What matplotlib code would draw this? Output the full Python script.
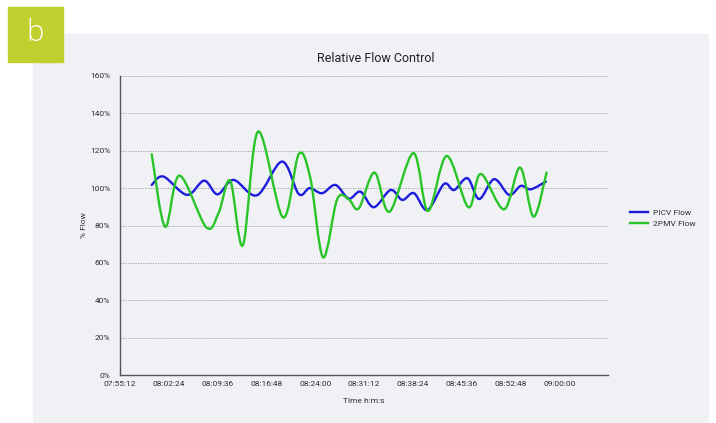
import numpy as np
import matplotlib.pyplot as plt
from matplotlib.path import Path
from matplotlib.patches import PathPatch, Rectangle
from matplotlib.lines import Line2D

plt.rcParams['font.family'] = ['Roboto', 'DejaVu Sans']

#----------- Data -----------------------------------
picv_times = ["07:59:53", "08:01:36", "08:05:04", "08:07:37", "08:09:35", "08:11:57",
              "08:15:25", "08:19:06", "08:21:34", "08:23:11", "08:25:01", "08:26:59",
              "08:28:57", "08:30:41", "08:32:39", "08:35:07", "08:36:51", "08:38:34",
              "08:40:33", "08:43:00", "08:44:29", "08:46:28", "08:48:11", "08:50:24",
              "08:52:37", "08:54:20", "08:55:49", "08:58:02"]
picv_flow = [101.7, 106.2, 96.4, 104.0, 96.7, 104.4,
             96.2, 114.2, 96.9, 100.0, 97.3, 101.7,
             94.4, 98.1, 89.8, 99.0, 93.7, 97.3,
             88.3, 102.2, 99.0, 105.3, 94.2, 104.8,
             96.4, 101.2, 99.4, 103.5]

pmv_times = ["07:59:53", "08:01:51", "08:03:58", "08:07:55", "08:09:44", "08:11:28",
             "08:13:20", "08:15:34", "08:19:15", "08:21:34", "08:23:17", "08:25:10",
             "08:27:14", "08:28:57", "08:30:26", "08:32:45", "08:34:58", "08:38:29",
             "08:40:38", "08:43:24", "08:46:36", "08:48:26", "08:51:52", "08:54:14",
             "08:56:13", "08:58:08"]
pmv_flow = [118.1, 79.4, 106.7, 79.1, 86.6, 103.9,
            69.6, 130.2, 84.4, 118.1, 105.3, 63.0,
            94.0, 94.0, 89.2, 108.3, 87.4, 118.7,
            87.8, 117.2, 89.8, 107.6, 88.7, 111.0,
            84.8, 108.3]

tick_times = ["07:55:12", "08:02:24", "08:09:36", "08:16:48", "08:24:00",
              "08:31:12", "08:38:24", "08:45:36", "08:52:48", "09:00:00"]
y_ticks = [0, 20, 40, 60, 80, 100, 120, 140, 160]


def to_days(t):
    h, m, s = [int(v) for v in t.split(":")]
    return h / 24 + m / 1440 + s / 86400


# spreadsheet style smoothed line (catmull-rom -> bezier)
def smooth_path(x, y):
    pts = np.column_stack([x, y])
    n = len(pts)
    verts = [pts[0]]
    codes = [Path.MOVETO]
    for i in range(n - 1):
        p0 = pts[max(i - 1, 0)]
        p1 = pts[i]
        p2 = pts[i + 1]
        p3 = pts[min(i + 2, n - 1)]
        verts += [p1 + (p2 - p0) / 6, p2 - (p3 - p1) / 6, p2]
        codes += [Path.CURVE4] * 3
    return Path(verts, codes)


BLUE = '#1c1cdc'
GREEN = '#28c428'
PANEL = '#f0f1f5'
TXT = '#2e2e2e'

fig = plt.figure(figsize=(7.16, 4.23), dpi=100)
fig.patch.set_facecolor('white')
W, H = 716, 423

# grey panel and the "b" tag
fig.patches.append(Rectangle((33 / W, 0), (708 - 33) / W, 1 - 34 / H,
                             transform=fig.transFigure, color=PANEL, zorder=-2))
fig.patches.append(Rectangle((8 / W, 1 - 62 / H), 55 / W, 55 / H,
                             transform=fig.transFigure, color='#c0d12f', zorder=-1))
fig.text(35.5 / W, 1 - 33 / H, "b", color='white', fontsize=21, fontweight='light',
         ha='center', va='center', family=['Open Sans', 'DejaVu Sans'])

ax = fig.add_axes([120 / W, 1 - 375.2 / H, (608 - 120) / W, (375.2 - 75.9) / H])
ax.set_facecolor('none')

ax.add_patch(PathPatch(smooth_path([to_days(t) for t in picv_times], picv_flow),
                       fill=False, edgecolor=BLUE, lw=1.7, zorder=3, capstyle='round'))
ax.add_patch(PathPatch(smooth_path([to_days(t) for t in pmv_times], pmv_flow),
                       fill=False, edgecolor=GREEN, lw=1.7, zorder=3, capstyle='round'))

ax.set_xlim(to_days("07:55:12"), to_days("09:07:12"))
ax.set_ylim(0, 160)
ax.set_xticks([to_days(t) for t in tick_times])
ax.set_xticklabels(tick_times)
ax.set_yticks(y_ticks)
ax.set_yticklabels([f"{v}%" for v in y_ticks])
ax.tick_params(length=0, labelsize=6, colors=TXT)
ax.tick_params(axis='y', pad=7)
ax.tick_params(axis='x', pad=4)

ax.grid(axis='y', color='#9a9a9a', linestyle=(0, (1.5, 1.5)), lw=0.6, zorder=1)
ax.spines['top'].set_visible(False)
ax.spines['right'].set_visible(False)
ax.spines['left'].set_color('#555555')
ax.spines['bottom'].set_color('#555555')
ax.spines['left'].set_linewidth(1.0)
ax.spines['bottom'].set_linewidth(1.0)

fig.text(376 / W, 1 - 58 / H, "Relative Flow Control", fontsize=9,
         ha='center', va='center', color='#222222')
fig.text(364 / W, 1 - 401 / H, "Time h:m:s", fontsize=6,
         ha='center', va='center', color=TXT)
fig.text(84 / W, 1 - 225 / H, "% Flow", fontsize=6, rotation=90,
         ha='center', va='center', color=TXT)

handles = [Line2D([], [], color=BLUE, lw=1.7), Line2D([], [], color=GREEN, lw=1.7)]
fig.legend(handles, ["PICV Flow", "2PMV Flow"], loc='center left',
           bbox_to_anchor=(622 / W, 1 - 218 / H), frameon=False, fontsize=6,
           handlelength=2.2, handletextpad=0.6, labelspacing=0.6, labelcolor=TXT)

fig.savefig('out.png', dpi=100, facecolor='white')
